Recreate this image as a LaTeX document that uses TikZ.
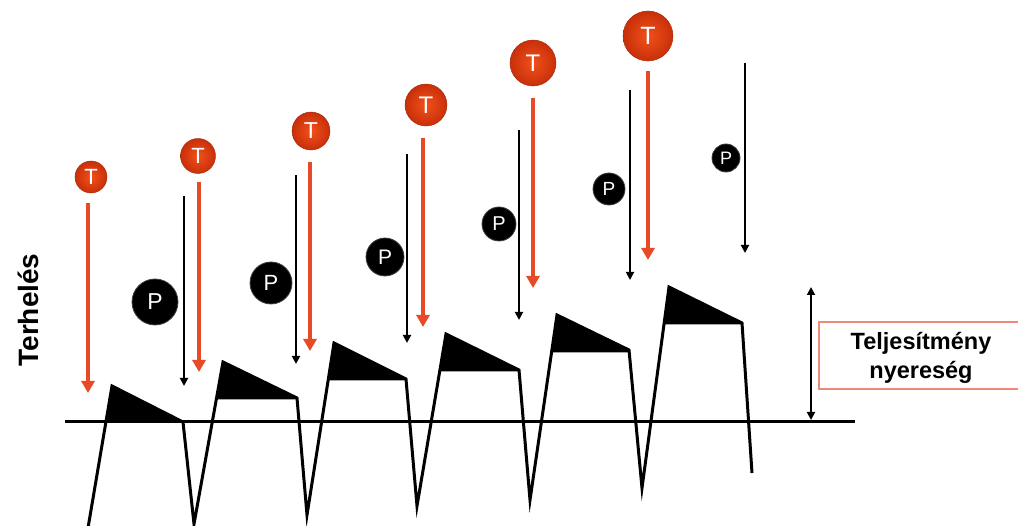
\documentclass[tikz,border=0pt]{standalone}
\usepackage{fontspec}
\setmainfont{Liberation Sans}
\usetikzlibrary{arrows.meta}
\definecolor{tred}{HTML}{E84A27}
\definecolor{tballin}{HTML}{F2501A}
\definecolor{tballout}{HTML}{C8300A}
\definecolor{boxred}{HTML}{EE8A78}
\begin{document}
\begin{tikzpicture}[x=1pt,y=-1pt,
  tnode/.style={circle, inner sep=0pt, text=white, inner color=tballin, outer color=tballout, draw=tballout!80!black, line width=0.4pt},
  pnode/.style={circle, inner sep=0pt, text=white, fill=black, draw=black!75, line width=0.8pt},
  tarrow/.style={draw=tred, line width=4pt, -{Triangle[length=12pt,width=13pt]}},
  parrow/.style={draw=black, line width=1.8pt, -{Triangle[length=8pt,width=8pt]}},
  wave/.style={line width=3pt, line join=miter, miter limit=20},
  filled/.style={fill=black, draw=black, line width=1pt, line join=miter},
  fs/.style={font=\fontsize{#1}{#1}\selectfont}
]
\useasboundingbox (0,0) rectangle (1018,526);

% baseline
\coordinate (bl0) at (65,422);
\coordinate (bl1) at (855,422);
\draw[line width=3pt] (bl0) -- (bl1);

% filled regions
\fill[filled] (105.4,422) -- (112,386) -- (183,422) -- cycle;
\fill[filled] (216.4,399) -- (223,362) -- (297,398) -- (297,399) -- cycle;
\fill[filled] (328.2,380) -- (334,343) -- (406,379) -- (406,380) -- cycle;
\fill[filled] (439.8,371) -- (446,334) -- (519,370) -- (519,371) -- cycle;
\fill[filled] (551.6,352) -- (557,315) -- (629,350) -- (629,352) -- cycle;
\fill[filled] (664,324) -- (669,287) -- (742,323) -- (742,324) -- cycle;

% wave
\draw[wave] (88,528) -- (112,386) -- (183,422) -- (194,524) -- (223,362) -- (297,398)
  -- (307,515) -- (334,343) -- (406,379) -- (417,506) -- (446,334) -- (519,370)
  -- (530,500) -- (557,315) -- (629,350) -- (642,488) -- (669,287) -- (742,323) -- (752,473);

% T balls
\node[tnode, minimum size=32pt, fs=22] (T1) at (91,177) {T};
\node[tnode, minimum size=35pt, fs=22] (T2) at (198,156) {T};
\node[tnode, minimum size=38pt, fs=23] (T3) at (311,131) {T};
\node[tnode, minimum size=42pt, fs=24] (T4) at (426,105) {T};
\node[tnode, minimum size=46pt, fs=24] (T5) at (533,63) {T};
\node[tnode, minimum size=50pt, fs=25] (T6) at (648,36) {T};

% P balls
\node[pnode, minimum size=46pt, fs=23] (P1) at (155,302) {P};
\node[pnode, minimum size=42pt, fs=22] (P2) at (271,283) {P};
\node[pnode, minimum size=38pt, fs=21] (P3) at (385,257) {P};
\node[pnode, minimum size=34pt, fs=20] (P4) at (499,224) {P};
\node[pnode, minimum size=32pt, fs=19] (P5) at (609,189) {P};
\node[pnode, minimum size=28pt, fs=18] (P6) at (726,158) {P};

% T arrows
\coordinate (t1s) at (88,203);  \coordinate (t1e) at (88,393);
\coordinate (t2s) at (199,182); \coordinate (t2e) at (199,372);
\coordinate (t3s) at (310,162); \coordinate (t3e) at (310,351);
\coordinate (t4s) at (423,138); \coordinate (t4e) at (423,327);
\coordinate (t5s) at (533,98);  \coordinate (t5e) at (533,288);
\coordinate (t6s) at (648,71);  \coordinate (t6e) at (648,260);
\foreach \i in {1,...,6} \draw[tarrow] (t\i s) -- (t\i e);

% P arrows
\coordinate (p1s) at (184,196); \coordinate (p1e) at (184,386);
\coordinate (p2s) at (296,175); \coordinate (p2e) at (296,364);
\coordinate (p3s) at (407,154); \coordinate (p3e) at (407,343);
\coordinate (p4s) at (519,130); \coordinate (p4e) at (519,320);
\coordinate (p5s) at (630,90);  \coordinate (p5e) at (630,280);
\coordinate (p6s) at (745,63);  \coordinate (p6e) at (745,253);
\foreach \i in {1,...,6} \draw[parrow] (p\i s) -- (p\i e);

% gain double arrow
\coordinate (g0) at (811,287);
\coordinate (g1) at (811,420);
\draw[line width=1.8pt, {Triangle[length=8pt,width=8pt]}-{Triangle[length=8pt,width=8pt]}] (g0) -- (g1);

% gain box (right side runs off the picture)
\draw[boxred, line width=1.2pt] (1019,322) -- (819,322) -- (819,389) -- (1019,389);
\node[align=center, font=\bfseries\fontsize{23.5}{29}\selectfont] (gain) at (921,358) {Teljesítmény\\nyereség};

% axis label
\node[rotate=90, font=\bfseries\fontsize{28}{30}\selectfont] (ylab) at (28,310) {Terhelés};
\end{tikzpicture}
\end{document}
